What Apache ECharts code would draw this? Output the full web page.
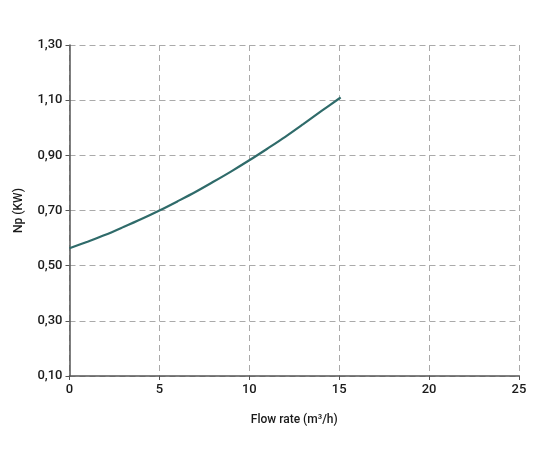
<!DOCTYPE html>
<html><head><meta charset="utf-8">
<script src="https://cdn.jsdelivr.net/npm/echarts@6/dist/echarts.min.js"></script>
<style>html,body{margin:0;padding:0;background:#fff}#c{width:539px;height:455px}</style>
</head><body><div id="c"></div>
<script>
const flowRate = [0,1,2,3,4,5,6,7,8,9,10,11,12,13,14,15,15.08];
const power = [0.563,0.587,0.612,0.640,0.669,0.700,0.733,0.767,0.804,0.842,0.882,0.924,0.967,1.013,1.060,1.106,1.110];
const xName = 'Flow rate (m³/h)';
const yName = 'Np (KW)';

const chart = echarts.init(document.getElementById('c'), null, {renderer:'canvas'});
const font = 'Roboto';
chart.setOption({
  animation:false,
  grid:{left:69.5,right:20,top:45,bottom:79,containLabel:false},
  xAxis:{type:'value',min:0,max:25,interval:5,name:xName,nameLocation:'middle',nameGap:38,
    nameTextStyle:{fontFamily:font,fontSize:12,fontWeight:500,color:'#1a1a1a'},
    axisLine:{show:true,lineStyle:{color:'#555',width:1.5}},
    axisTick:{show:true,length:4,lineStyle:{color:'#555'}},
    axisLabel:{fontFamily:font,fontSize:13,fontWeight:500,color:'#1a1a1a',margin:7},
    splitLine:{show:true,lineStyle:{type:[6,4],color:'#aaa',width:1}}},
  yAxis:{type:'value',min:0.1,max:1.3,interval:0.2,name:yName,nameLocation:'middle',nameGap:45,
    nameTextStyle:{fontFamily:font,fontSize:12,fontWeight:500,color:'#1a1a1a'},
    axisLine:{show:true,lineStyle:{color:'#555',width:1.5}},
    axisTick:{show:true,length:4,lineStyle:{color:'#555'}},
    axisLabel:{fontFamily:font,fontSize:13,fontWeight:500,color:'#1a1a1a',margin:7,
      formatter:v=>v.toFixed(2).replace('.',',')},
    splitLine:{show:true,lineStyle:{type:[6,4],color:'#aaa',width:1}}},
  series:[{type:'line',data:flowRate.map((x,i)=>[x,power[i]]),smooth:0.3,showSymbol:false,
    lineStyle:{color:'#2f6b6a',width:2.2}}]
});
</script></body></html>
